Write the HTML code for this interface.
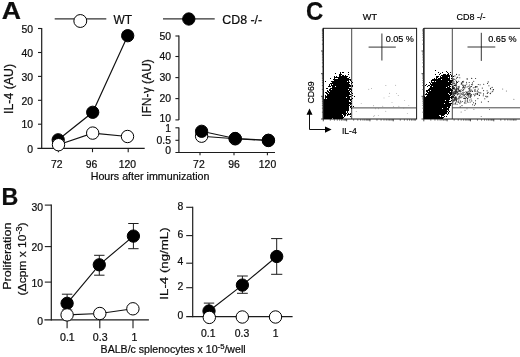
<!DOCTYPE html>
<html><head><meta charset="utf-8"><title>Figure</title>
<style>
html,body{margin:0;padding:0;background:#fff;}
svg{display:block;font-family:"Liberation Sans",Arial,sans-serif;fill:#0d0d0d;}
text{stroke:#0d0d0d;stroke-width:0.22px;}
.sm{stroke:#000;stroke-width:0.18px;fill:#000;}
</style></head><body>
<svg width="520" height="357" viewBox="0 0 520 357">
<rect x="0" y="0" width="520" height="357" fill="#fff"/>
<text x="1.7" y="18.8" font-size="24.6" text-anchor="start" textLength="19.2" lengthAdjust="spacingAndGlyphs" font-weight="bold">A</text>
<text x="1.4" y="204.7" font-size="24" text-anchor="start" textLength="16.8" lengthAdjust="spacingAndGlyphs" font-weight="bold">B</text>
<text x="305.9" y="19.7" font-size="25" text-anchor="start" textLength="17.3" lengthAdjust="spacingAndGlyphs" font-weight="bold">C</text>
<line x1="54.7" y1="18.9" x2="106.3" y2="18.9" stroke="#333" stroke-width="1.2"/>
<circle cx="80.3" cy="21.0" r="6.45" fill="#fff" stroke="#000" stroke-width="1.0"/>
<text x="113.4" y="24.2" font-size="12" text-anchor="start" textLength="18.6" lengthAdjust="spacingAndGlyphs">WT</text>
<line x1="163" y1="18.9" x2="214.7" y2="18.9" stroke="#333" stroke-width="1.2"/>
<circle cx="188.8" cy="19" r="6.15" fill="#000" stroke="#000" stroke-width="1.0"/>
<text x="222.3" y="24.3" font-size="12" text-anchor="start" textLength="39.8" lengthAdjust="spacingAndGlyphs">CD8 -/-</text>
<line x1="41.7" y1="28.0" x2="41.7" y2="148.9" stroke="#1c1c1c" stroke-width="1.2"/>
<line x1="37.4" y1="148.3" x2="144.7" y2="148.3" stroke="#1c1c1c" stroke-width="1.2"/>
<line x1="38.0" y1="28.5" x2="41.7" y2="28.5" stroke="#1c1c1c" stroke-width="1.1"/>
<text x="33.0" y="32.7" font-size="10.4" text-anchor="end">50</text>
<line x1="38.0" y1="52.5" x2="41.7" y2="52.5" stroke="#1c1c1c" stroke-width="1.1"/>
<text x="33.0" y="56.7" font-size="10.4" text-anchor="end">40</text>
<line x1="38.0" y1="76.4" x2="41.7" y2="76.4" stroke="#1c1c1c" stroke-width="1.1"/>
<text x="33.0" y="80.60000000000001" font-size="10.4" text-anchor="end">30</text>
<line x1="38.0" y1="100.3" x2="41.7" y2="100.3" stroke="#1c1c1c" stroke-width="1.1"/>
<text x="33.0" y="104.5" font-size="10.4" text-anchor="end">20</text>
<line x1="38.0" y1="124.2" x2="41.7" y2="124.2" stroke="#1c1c1c" stroke-width="1.1"/>
<text x="33.0" y="128.4" font-size="10.4" text-anchor="end">10</text>
<text x="33.0" y="152.5" font-size="10.4" text-anchor="end">0</text>
<line x1="58.4" y1="148.3" x2="58.4" y2="152.2" stroke="#1c1c1c" stroke-width="1.1"/>
<text x="56.7" y="168.0" font-size="10.4" text-anchor="middle">72</text>
<line x1="92.5" y1="148.3" x2="92.5" y2="152.2" stroke="#1c1c1c" stroke-width="1.1"/>
<text x="91.6" y="168.0" font-size="10.4" text-anchor="middle">96</text>
<line x1="128.2" y1="148.3" x2="128.2" y2="152.2" stroke="#1c1c1c" stroke-width="1.1"/>
<text x="127.4" y="168.0" font-size="10.4" text-anchor="middle">120</text>
<text transform="translate(13.1,89) rotate(-90)" font-size="12" text-anchor="middle" textLength="50" lengthAdjust="spacingAndGlyphs">IL-4 (AU)</text>
<polyline fill="none" stroke="#111" stroke-width="1.15" points="58.2,139.8 92.7,112.3 127.7,35.7"/>
<circle cx="58.2" cy="139.8" r="6.15" fill="#000" stroke="#000" stroke-width="1.0"/>
<circle cx="92.7" cy="112.3" r="6.15" fill="#000" stroke="#000" stroke-width="1.0"/>
<circle cx="127.7" cy="35.7" r="6.15" fill="#000" stroke="#000" stroke-width="1.0"/>
<polyline fill="none" stroke="#111" stroke-width="1.15" points="58.5,144.7 92.7,133.1 127.5,136.5"/>
<circle cx="58.5" cy="144.7" r="6.2" fill="#fff" stroke="#000" stroke-width="1.0"/>
<circle cx="92.7" cy="133.1" r="6.2" fill="#fff" stroke="#000" stroke-width="1.0"/>
<circle cx="127.5" cy="136.5" r="6.2" fill="#fff" stroke="#000" stroke-width="1.0"/>
<text x="90.7" y="180.3" font-size="10.7" text-anchor="start" textLength="118.8" lengthAdjust="spacingAndGlyphs">Hours after immunization</text>
<line x1="178.9" y1="35.5" x2="178.9" y2="119.9" stroke="#1c1c1c" stroke-width="1.2"/>
<line x1="178.9" y1="127.6" x2="178.9" y2="153.0" stroke="#1c1c1c" stroke-width="1.2"/>
<line x1="175.4" y1="152.5" x2="275" y2="152.5" stroke="#1c1c1c" stroke-width="1.2"/>
<line x1="175.4" y1="36.0" x2="178.9" y2="36.0" stroke="#1c1c1c" stroke-width="1.1"/>
<text x="171.0" y="39.5" font-size="10.4" text-anchor="end">50</text>
<line x1="175.4" y1="56.5" x2="178.9" y2="56.5" stroke="#1c1c1c" stroke-width="1.1"/>
<text x="171.0" y="59.5" font-size="10.4" text-anchor="end">40</text>
<line x1="175.4" y1="77.6" x2="178.9" y2="77.6" stroke="#1c1c1c" stroke-width="1.1"/>
<text x="171.0" y="80.7" font-size="10.4" text-anchor="end">30</text>
<line x1="175.4" y1="98.6" x2="178.9" y2="98.6" stroke="#1c1c1c" stroke-width="1.1"/>
<text x="171.0" y="101.9" font-size="10.4" text-anchor="end">20</text>
<line x1="175.4" y1="119.9" x2="178.9" y2="119.9" stroke="#1c1c1c" stroke-width="1.1"/>
<text x="171.0" y="121.7" font-size="10.4" text-anchor="end">10</text>
<line x1="175.4" y1="127.8" x2="178.9" y2="127.8" stroke="#1c1c1c" stroke-width="1.1"/>
<text x="171.0" y="131.7" font-size="10.4" text-anchor="end">1</text>
<line x1="175.4" y1="140.3" x2="178.9" y2="140.3" stroke="#1c1c1c" stroke-width="1.1"/>
<text x="171.0" y="143.5" font-size="10.4" text-anchor="end">0.5</text>
<text x="171.0" y="153.8" font-size="10.4" text-anchor="end">0</text>
<line x1="200.0" y1="152.5" x2="200.0" y2="155.3" stroke="#1c1c1c" stroke-width="1.1"/>
<text x="198.9" y="167.9" font-size="10.4" text-anchor="middle">72</text>
<line x1="234" y1="152.5" x2="234" y2="155.3" stroke="#1c1c1c" stroke-width="1.1"/>
<text x="234" y="167.9" font-size="10.4" text-anchor="middle">96</text>
<line x1="267.4" y1="152.5" x2="267.4" y2="155.3" stroke="#1c1c1c" stroke-width="1.1"/>
<text x="267.5" y="167.9" font-size="10.4" text-anchor="middle">120</text>
<text transform="translate(151.3,88) rotate(-90)" font-size="12" text-anchor="middle" textLength="57.8" lengthAdjust="spacingAndGlyphs">IFN-γ (AU)</text>
<polyline fill="none" stroke="#111" stroke-width="1.15" points="201.6,136.2 235.2,138.8 268.4,140.5"/>
<circle cx="201.6" cy="136.2" r="6.2" fill="#fff" stroke="#000" stroke-width="1.0"/>
<circle cx="235.2" cy="138.8" r="6.2" fill="#fff" stroke="#000" stroke-width="1.0"/>
<circle cx="268.4" cy="140.5" r="6.2" fill="#fff" stroke="#000" stroke-width="1.0"/>
<polyline fill="none" stroke="#111" stroke-width="1.15" points="201.6,131.3 235.2,138.5 268.4,140.3"/>
<circle cx="201.6" cy="131.3" r="6.15" fill="#000" stroke="#000" stroke-width="1.0"/>
<circle cx="235.2" cy="138.5" r="6.15" fill="#000" stroke="#000" stroke-width="1.0"/>
<circle cx="268.4" cy="140.3" r="6.15" fill="#000" stroke="#000" stroke-width="1.0"/>
<line x1="51.3" y1="204.6" x2="51.3" y2="320.4" stroke="#1c1c1c" stroke-width="1.2"/>
<line x1="44.4" y1="319.9" x2="148.9" y2="319.9" stroke="#1c1c1c" stroke-width="1.2"/>
<line x1="44.8" y1="205.1" x2="51.3" y2="205.1" stroke="#1c1c1c" stroke-width="1.1"/>
<text x="43.0" y="211.1" font-size="10.4" text-anchor="end">30</text>
<line x1="44.8" y1="246.6" x2="51.3" y2="246.6" stroke="#1c1c1c" stroke-width="1.1"/>
<text x="43.0" y="251.2" font-size="10.4" text-anchor="end">20</text>
<line x1="44.8" y1="282.1" x2="51.3" y2="282.1" stroke="#1c1c1c" stroke-width="1.1"/>
<text x="43.0" y="286.70000000000005" font-size="10.4" text-anchor="end">10</text>
<text x="43.0" y="324.5" font-size="10.4" text-anchor="end">0</text>
<line x1="67.1" y1="320" x2="67.1" y2="328.2" stroke="#1c1c1c" stroke-width="1.1"/>
<text x="67.4" y="340.6" font-size="10.6" text-anchor="middle">0.1</text>
<line x1="99.8" y1="320" x2="99.8" y2="328.2" stroke="#1c1c1c" stroke-width="1.1"/>
<text x="100.2" y="340.6" font-size="10.6" text-anchor="middle">0.3</text>
<line x1="133.0" y1="320" x2="133.0" y2="328.2" stroke="#1c1c1c" stroke-width="1.1"/>
<text x="134.4" y="340.6" font-size="10.6" text-anchor="middle">1</text>
<text transform="translate(11.3,256.2) rotate(-90)" font-size="11.2" text-anchor="middle" textLength="67.2" lengthAdjust="spacingAndGlyphs">Proliferation</text>
<text transform="translate(26.4,258.9) rotate(-90)" font-size="11.2" text-anchor="middle" textLength="73" lengthAdjust="spacingAndGlyphs">(Δcpm x 10<tspan font-size="8.5" dy="-4.8">-3</tspan><tspan dy="4.8">)</tspan></text>
<line x1="67.1" y1="294.2" x2="67.1" y2="310" stroke="#1c1c1c" stroke-width="1.0"/>
<line x1="61.89999999999999" y1="294.2" x2="72.3" y2="294.2" stroke="#1c1c1c" stroke-width="1.0"/>
<line x1="61.89999999999999" y1="310" x2="72.3" y2="310" stroke="#1c1c1c" stroke-width="1.0"/>
<line x1="99.3" y1="255.3" x2="99.3" y2="275.2" stroke="#1c1c1c" stroke-width="1.0"/>
<line x1="94.1" y1="255.3" x2="104.5" y2="255.3" stroke="#1c1c1c" stroke-width="1.0"/>
<line x1="94.1" y1="275.2" x2="104.5" y2="275.2" stroke="#1c1c1c" stroke-width="1.0"/>
<line x1="133.4" y1="223.5" x2="133.4" y2="248.7" stroke="#1c1c1c" stroke-width="1.0"/>
<line x1="128.20000000000002" y1="223.5" x2="138.6" y2="223.5" stroke="#1c1c1c" stroke-width="1.0"/>
<line x1="128.20000000000002" y1="248.7" x2="138.6" y2="248.7" stroke="#1c1c1c" stroke-width="1.0"/>
<polyline fill="none" stroke="#111" stroke-width="1.15" points="67.1,303.3 99.3,264.8 133.4,236.1"/>
<circle cx="67.1" cy="303.3" r="6.15" fill="#000" stroke="#000" stroke-width="1.0"/>
<circle cx="99.3" cy="264.8" r="6.15" fill="#000" stroke="#000" stroke-width="1.0"/>
<circle cx="133.4" cy="236.1" r="6.15" fill="#000" stroke="#000" stroke-width="1.0"/>
<polyline fill="none" stroke="#111" stroke-width="1.15" points="67.1,314.9 99.8,313.5 132.9,308.8"/>
<circle cx="67.1" cy="314.9" r="6.2" fill="#fff" stroke="#000" stroke-width="1.0"/>
<circle cx="99.8" cy="313.5" r="6.2" fill="#fff" stroke="#000" stroke-width="1.0"/>
<circle cx="132.9" cy="308.8" r="6.2" fill="#fff" stroke="#000" stroke-width="1.0"/>
<text x="100.6" y="353.2" font-size="10.7" textLength="145" lengthAdjust="spacingAndGlyphs">BALB/c splenocytes x 10<tspan font-size="7.8" dy="-4.2">-5</tspan><tspan dy="4.2">/well</tspan></text>
<line x1="192.7" y1="206.8" x2="192.7" y2="317.3" stroke="#1c1c1c" stroke-width="1.2"/>
<line x1="186.2" y1="316.7" x2="292.6" y2="316.7" stroke="#1c1c1c" stroke-width="1.2"/>
<line x1="186.2" y1="207.3" x2="192.7" y2="207.3" stroke="#1c1c1c" stroke-width="1.1"/>
<text x="183.3" y="209.5" font-size="10.4" text-anchor="end">8</text>
<line x1="186.2" y1="235.6" x2="192.7" y2="235.6" stroke="#1c1c1c" stroke-width="1.1"/>
<text x="183.3" y="237.79999999999998" font-size="10.4" text-anchor="end">6</text>
<line x1="186.2" y1="263.2" x2="192.7" y2="263.2" stroke="#1c1c1c" stroke-width="1.1"/>
<text x="183.3" y="265.4" font-size="10.4" text-anchor="end">4</text>
<line x1="186.2" y1="287.7" x2="192.7" y2="287.7" stroke="#1c1c1c" stroke-width="1.1"/>
<text x="183.3" y="289.9" font-size="10.4" text-anchor="end">2</text>
<text x="183.3" y="318.9" font-size="10.4" text-anchor="end">0</text>
<text x="208.3" y="336.5" font-size="10.4" text-anchor="middle">0.1</text>
<text x="242.0" y="336.5" font-size="10.4" text-anchor="middle">0.3</text>
<text x="275.7" y="336.5" font-size="10.4" text-anchor="middle">1</text>
<text transform="translate(168.4,263.5) rotate(-90)" font-size="11.4" text-anchor="middle" textLength="72.3" lengthAdjust="spacingAndGlyphs">IL-4 (ng/mL)</text>
<line x1="209" y1="303.1" x2="209" y2="316" stroke="#1c1c1c" stroke-width="1.0"/>
<line x1="203.8" y1="303.1" x2="214.2" y2="303.1" stroke="#1c1c1c" stroke-width="1.0"/>
<line x1="203.8" y1="316" x2="214.2" y2="316" stroke="#1c1c1c" stroke-width="1.0"/>
<line x1="242.4" y1="276" x2="242.4" y2="293.3" stroke="#1c1c1c" stroke-width="1.0"/>
<line x1="237.0" y1="276" x2="247.8" y2="276" stroke="#1c1c1c" stroke-width="1.0"/>
<line x1="237.0" y1="293.3" x2="247.8" y2="293.3" stroke="#1c1c1c" stroke-width="1.0"/>
<line x1="276.7" y1="238.6" x2="276.7" y2="274.3" stroke="#1c1c1c" stroke-width="1.0"/>
<line x1="271.09999999999997" y1="238.6" x2="282.3" y2="238.6" stroke="#1c1c1c" stroke-width="1.0"/>
<line x1="271.09999999999997" y1="274.3" x2="282.3" y2="274.3" stroke="#1c1c1c" stroke-width="1.0"/>
<polyline fill="none" stroke="#111" stroke-width="1.15" points="209,311.0 242.4,285.1 276.7,256.5"/>
<circle cx="209" cy="311.0" r="6.15" fill="#000" stroke="#000" stroke-width="1.0"/>
<circle cx="242.4" cy="285.1" r="6.15" fill="#000" stroke="#000" stroke-width="1.0"/>
<circle cx="276.7" cy="256.5" r="6.15" fill="#000" stroke="#000" stroke-width="1.0"/>
<circle cx="209.3" cy="317.4" r="6.2" fill="#fff" stroke="#000" stroke-width="1.0"/>
<circle cx="242.3" cy="317.0" r="6.2" fill="#fff" stroke="#000" stroke-width="1.0"/>
<circle cx="275.5" cy="317.0" r="6.2" fill="#fff" stroke="#000" stroke-width="1.0"/>
<rect x="323.3" y="28.3" width="93.30000000000001" height="90.7" fill="none" stroke="#1a1a1a" stroke-width="1.0"/>
<line x1="323.3" y1="28.3" x2="323.3" y2="119.0" stroke="#1a1a1a" stroke-width="1.3"/>
<line x1="351.7" y1="28.3" x2="351.7" y2="119.0" stroke="#333" stroke-width="0.9"/>
<line x1="351.7" y1="107.9" x2="416.6" y2="107.9" stroke="#333" stroke-width="0.9"/>
<line x1="368.6" y1="47.1" x2="395.8" y2="47.1" stroke="#111" stroke-width="0.85"/>
<line x1="381.9" y1="33.5" x2="381.9" y2="60.5" stroke="#111" stroke-width="0.85"/>
<text x="385.7" y="42.4" font-size="9" text-anchor="start" textLength="28.2" lengthAdjust="spacingAndGlyphs" class="sm">0.05 %</text>
<text x="362.8" y="20.3" font-size="9" text-anchor="start" textLength="14.2" lengthAdjust="spacingAndGlyphs" class="sm">WT</text>
<path d="M340 72.5h1M342 72.5h2M348 72.5h1M335 73.5h1M340 73.5h1M339 74.5h3M348 74.5h1M339 75.5h2M342 75.5h2M345 75.5h1M334 76.5h1M336 76.5h1M339 76.5h9M334 77.5h13M349 77.5h1M330 78.5h1M334 78.5h1M338 78.5h11M333 79.5h18M334 80.5h15M350 80.5h1M325 81.5h1M331 81.5h16M348 81.5h1M351 81.5h1M332 82.5h18M352 82.5h1M330 83.5h19M351 83.5h1M329 84.5h1M331 84.5h1M333 84.5h17M329 85.5h1M331 85.5h20M352 85.5h1M328 86.5h3M332 86.5h3M336 86.5h15M352 86.5h1M332 87.5h17M326 88.5h2M330 88.5h21M329 89.5h2M332 89.5h16M349 89.5h3M327 90.5h1M329 90.5h21M351 90.5h1M327 91.5h2M330 91.5h19M350 91.5h1M325 92.5h2M328 92.5h22M351 92.5h1M326 93.5h2M329 93.5h21M352 93.5h1M327 94.5h24M325 95.5h1M327 95.5h22M352 95.5h1M325 96.5h26M354 96.5h1M325 97.5h21M347 97.5h3M325 98.5h1M327 98.5h23M352 98.5h1M324 99.5h28M324 100.5h25M350 100.5h1M324 101.5h25M351 101.5h1M324 102.5h27M324 103.5h28M324 104.5h25M350 104.5h1M324 105.5h26M324 106.5h25M350 106.5h2M353 106.5h1M324 107.5h25M350 107.5h1M324 108.5h25M351 108.5h1M324 109.5h25M324 110.5h25M324 111.5h22M347 111.5h1M324 112.5h22M347 112.5h1M324 113.5h23M348 113.5h1M350 113.5h1M324 114.5h18M343 114.5h3M347 114.5h4M324 115.5h19M344 115.5h2M347 115.5h1M324 116.5h19M344 116.5h1M350 116.5h1M324 117.5h20M324 118.5h8M333 118.5h10" stroke="#000" stroke-width="1" fill="none" shape-rendering="crispEdges"/>
<path d="M521,28.3 H423.8 V119.0 H521" fill="none" stroke="#1a1a1a" stroke-width="1.0"/>
<line x1="423.8" y1="28.3" x2="423.8" y2="119.0" stroke="#1a1a1a" stroke-width="1.3"/>
<line x1="452.3" y1="28.3" x2="452.3" y2="119.0" stroke="#333" stroke-width="0.9"/>
<line x1="452.3" y1="107.8" x2="521" y2="107.8" stroke="#333" stroke-width="0.9"/>
<line x1="467.5" y1="47" x2="495.3" y2="47" stroke="#111" stroke-width="0.85"/>
<line x1="481.3" y1="32.8" x2="481.3" y2="60.9" stroke="#111" stroke-width="0.85"/>
<text x="488.3" y="42.4" font-size="9" text-anchor="start" textLength="28.2" lengthAdjust="spacingAndGlyphs" class="sm">0.65 %</text>
<text x="456.5" y="20.4" font-size="9" text-anchor="start" textLength="29" lengthAdjust="spacingAndGlyphs" class="sm">CD8 -/-</text>
<path d="M435 70.5h1M446 71.5h1M438 72.5h1M442 72.5h1M447 72.5h1M450 72.5h1M440 73.5h1M448 73.5h1M435 74.5h1M439 74.5h1M443 74.5h3M447 74.5h2M450 74.5h1M441 75.5h9M451 75.5h1M436 76.5h3M440 76.5h1M442 76.5h8M451 76.5h1M453 76.5h1M436 77.5h2M440 77.5h8M449 77.5h1M434 78.5h1M436 78.5h1M438 78.5h12M451 78.5h1M432 79.5h9M442 79.5h8M431 80.5h22M431 81.5h1M434 81.5h1M436 81.5h12M449 81.5h3M429 82.5h1M431 82.5h21M430 83.5h1M432 83.5h19M426 84.5h1M430 84.5h22M425 85.5h1M428 85.5h2M431 85.5h19M454 85.5h1M427 86.5h1M430 86.5h2M433 86.5h15M449 86.5h2M452 86.5h1M430 87.5h16M447 87.5h3M452 87.5h1M429 88.5h22M452 88.5h2M428 89.5h24M426 90.5h4M431 90.5h22M426 91.5h2M429 91.5h21M451 91.5h1M427 92.5h25M426 93.5h1M428 93.5h20M449 93.5h3M425 94.5h24M450 94.5h2M427 95.5h24M424 96.5h1M426 96.5h24M451 96.5h3M424 97.5h29M424 98.5h26M451 98.5h1M424 99.5h26M424 100.5h21M446 100.5h3M451 100.5h1M424 101.5h27M424 102.5h25M424 103.5h20M445 103.5h7M424 104.5h27M424 105.5h27M424 106.5h26M424 107.5h23M448 107.5h2M424 108.5h18M443 108.5h6M424 109.5h25M424 110.5h23M448 110.5h1M424 111.5h24M449 111.5h1M424 112.5h23M448 112.5h1M424 113.5h23M448 113.5h1M424 114.5h21M447 114.5h1M424 115.5h15M441 115.5h3M424 116.5h16M441 116.5h1M444 116.5h1M446 116.5h1M424 117.5h20M424 118.5h19" stroke="#000" stroke-width="1" fill="none" shape-rendering="crispEdges"/>
<g fill="#777"><circle cx="378.3" cy="115.6" r="0.45"/><circle cx="373.6" cy="105.8" r="0.45"/><circle cx="389.0" cy="96.4" r="0.45"/><circle cx="382.8" cy="106.3" r="0.45"/><circle cx="404.7" cy="100.4" r="0.45"/><circle cx="373.7" cy="116.2" r="0.45"/><circle cx="356.2" cy="111.5" r="0.45"/><circle cx="392.0" cy="102.4" r="0.45"/><circle cx="378.5" cy="108.8" r="0.45"/><circle cx="403.8" cy="108.1" r="0.45"/><circle cx="395.7" cy="85.2" r="0.45"/><circle cx="371.5" cy="88.5" r="0.45"/><circle cx="407.3" cy="113.4" r="0.45"/><circle cx="361.2" cy="103.4" r="0.45"/><circle cx="385.9" cy="85.5" r="0.45"/><circle cx="375.4" cy="108.7" r="0.45"/><circle cx="389.6" cy="93.3" r="0.45"/><circle cx="396.5" cy="93.6" r="0.45"/><circle cx="384.0" cy="97.9" r="0.45"/><circle cx="408.8" cy="105.4" r="0.45"/><circle cx="398.9" cy="106.3" r="0.45"/><circle cx="374.7" cy="115.8" r="0.45"/><circle cx="393.5" cy="106.8" r="0.45"/><circle cx="368.8" cy="89.3" r="0.45"/><circle cx="385.8" cy="111.3" r="0.45"/><circle cx="398.2" cy="95.5" r="0.45"/></g>
<g fill="#222"><circle cx="454.9" cy="75.9" r="0.55"/><circle cx="455.3" cy="90.0" r="0.55"/><circle cx="471.6" cy="94.6" r="0.55"/><circle cx="453.6" cy="97.5" r="0.55"/><circle cx="457.7" cy="77.3" r="0.55"/><circle cx="455.7" cy="84.9" r="0.55"/><circle cx="458.2" cy="88.4" r="0.55"/><circle cx="457.0" cy="93.0" r="0.55"/><circle cx="459.8" cy="77.8" r="0.55"/><circle cx="457.1" cy="104.3" r="0.55"/><circle cx="456.0" cy="98.6" r="0.55"/><circle cx="478.2" cy="89.1" r="0.55"/><circle cx="467.0" cy="93.0" r="0.55"/><circle cx="455.1" cy="85.0" r="0.55"/><circle cx="472.6" cy="84.7" r="0.55"/><circle cx="468.3" cy="93.5" r="0.55"/><circle cx="472.4" cy="91.2" r="0.55"/><circle cx="487.7" cy="96.7" r="0.55"/><circle cx="463.4" cy="89.5" r="0.55"/><circle cx="457.0" cy="101.9" r="0.55"/><circle cx="473.5" cy="102.7" r="0.55"/><circle cx="464.5" cy="95.1" r="0.55"/><circle cx="458.9" cy="97.0" r="0.55"/><circle cx="456.7" cy="89.5" r="0.55"/><circle cx="453.8" cy="79.1" r="0.55"/><circle cx="468.7" cy="88.8" r="0.55"/><circle cx="460.3" cy="93.0" r="0.55"/><circle cx="457.9" cy="88.3" r="0.55"/><circle cx="467.3" cy="100.9" r="0.55"/><circle cx="469.3" cy="90.2" r="0.55"/><circle cx="473.7" cy="81.2" r="0.55"/><circle cx="471.8" cy="100.9" r="0.55"/><circle cx="458.7" cy="81.3" r="0.55"/><circle cx="458.8" cy="100.0" r="0.55"/><circle cx="455.7" cy="98.1" r="0.55"/><circle cx="463.1" cy="85.7" r="0.55"/><circle cx="468.3" cy="94.8" r="0.55"/><circle cx="458.6" cy="89.4" r="0.55"/><circle cx="453.8" cy="83.7" r="0.55"/><circle cx="479.5" cy="95.5" r="0.55"/><circle cx="468.2" cy="86.3" r="0.55"/><circle cx="464.7" cy="88.7" r="0.55"/><circle cx="457.3" cy="99.0" r="0.55"/><circle cx="478.3" cy="84.5" r="0.55"/><circle cx="455.1" cy="85.5" r="0.55"/><circle cx="462.5" cy="81.6" r="0.55"/><circle cx="484.8" cy="98.7" r="0.55"/><circle cx="476.9" cy="86.9" r="0.55"/><circle cx="467.5" cy="94.4" r="0.55"/><circle cx="469.8" cy="89.8" r="0.55"/><circle cx="469.8" cy="88.2" r="0.55"/><circle cx="453.8" cy="87.5" r="0.55"/><circle cx="465.7" cy="94.3" r="0.55"/><circle cx="456.2" cy="86.2" r="0.55"/><circle cx="456.3" cy="101.1" r="0.55"/><circle cx="475.5" cy="86.6" r="0.55"/><circle cx="453.8" cy="100.9" r="0.55"/><circle cx="478.3" cy="92.1" r="0.55"/><circle cx="466.7" cy="92.4" r="0.55"/><circle cx="454.9" cy="91.2" r="0.55"/><circle cx="461.1" cy="94.2" r="0.55"/><circle cx="464.1" cy="92.5" r="0.55"/><circle cx="477.4" cy="90.8" r="0.55"/><circle cx="454.4" cy="93.3" r="0.55"/><circle cx="458.6" cy="101.9" r="0.55"/><circle cx="458.4" cy="87.0" r="0.55"/><circle cx="474.9" cy="90.5" r="0.55"/><circle cx="456.1" cy="99.0" r="0.55"/><circle cx="463.6" cy="81.3" r="0.55"/><circle cx="453.2" cy="91.9" r="0.55"/><circle cx="462.6" cy="90.2" r="0.55"/><circle cx="460.5" cy="101.1" r="0.55"/><circle cx="470.8" cy="95.4" r="0.55"/><circle cx="465.1" cy="85.4" r="0.55"/><circle cx="465.2" cy="96.6" r="0.55"/><circle cx="475.6" cy="78.5" r="0.55"/><circle cx="461.9" cy="96.9" r="0.55"/><circle cx="468.9" cy="97.2" r="0.55"/><circle cx="470.1" cy="86.6" r="0.55"/><circle cx="455.7" cy="93.6" r="0.55"/><circle cx="460.0" cy="90.8" r="0.55"/><circle cx="471.4" cy="96.0" r="0.55"/><circle cx="463.0" cy="87.6" r="0.55"/><circle cx="469.8" cy="93.6" r="0.55"/><circle cx="455.9" cy="90.7" r="0.55"/><circle cx="469.7" cy="100.0" r="0.55"/><circle cx="488.2" cy="81.9" r="0.55"/><circle cx="470.7" cy="91.6" r="0.55"/><circle cx="456.0" cy="88.9" r="0.55"/><circle cx="453.0" cy="99.8" r="0.55"/><circle cx="466.7" cy="84.0" r="0.55"/><circle cx="457.1" cy="88.9" r="0.55"/><circle cx="466.8" cy="95.0" r="0.55"/><circle cx="455.5" cy="93.8" r="0.55"/><circle cx="458.9" cy="102.3" r="0.55"/><circle cx="461.3" cy="84.2" r="0.55"/><circle cx="454.3" cy="95.1" r="0.55"/><circle cx="473.8" cy="94.2" r="0.55"/><circle cx="475.0" cy="91.4" r="0.55"/><circle cx="461.9" cy="93.4" r="0.55"/><circle cx="454.4" cy="87.9" r="0.55"/><circle cx="464.4" cy="87.2" r="0.55"/><circle cx="456.9" cy="91.4" r="0.55"/><circle cx="453.1" cy="102.0" r="0.55"/><circle cx="493.5" cy="89.5" r="0.55"/><circle cx="459.6" cy="96.3" r="0.55"/><circle cx="476.2" cy="93.9" r="0.55"/><circle cx="453.0" cy="88.0" r="0.55"/><circle cx="456.2" cy="85.3" r="0.55"/><circle cx="452.9" cy="87.6" r="0.55"/><circle cx="477.6" cy="93.6" r="0.55"/><circle cx="453.4" cy="83.0" r="0.55"/><circle cx="483.6" cy="90.6" r="0.55"/><circle cx="458.3" cy="91.1" r="0.55"/><circle cx="466.5" cy="97.6" r="0.55"/><circle cx="467.1" cy="87.0" r="0.55"/><circle cx="456.0" cy="92.3" r="0.55"/><circle cx="454.3" cy="88.2" r="0.55"/><circle cx="455.9" cy="89.5" r="0.55"/><circle cx="461.3" cy="83.1" r="0.55"/><circle cx="470.0" cy="87.5" r="0.55"/><circle cx="460.9" cy="102.2" r="0.55"/><circle cx="453.6" cy="96.7" r="0.55"/><circle cx="461.7" cy="83.3" r="0.55"/><circle cx="470.3" cy="97.5" r="0.55"/><circle cx="456.6" cy="84.8" r="0.55"/><circle cx="461.7" cy="83.1" r="0.55"/><circle cx="454.9" cy="100.4" r="0.55"/><circle cx="453.7" cy="85.8" r="0.55"/><circle cx="456.6" cy="97.1" r="0.55"/><circle cx="459.8" cy="91.3" r="0.55"/><circle cx="474.5" cy="95.8" r="0.55"/><circle cx="471.7" cy="84.5" r="0.55"/><circle cx="475.5" cy="100.8" r="0.55"/><circle cx="453.3" cy="97.1" r="0.55"/><circle cx="490.2" cy="93.6" r="0.55"/><circle cx="456.3" cy="83.4" r="0.55"/><circle cx="467.1" cy="78.7" r="0.55"/><circle cx="488.0" cy="92.4" r="0.55"/><circle cx="453.1" cy="96.1" r="0.55"/><circle cx="472.6" cy="104.8" r="0.55"/><circle cx="470.1" cy="102.1" r="0.55"/><circle cx="455.7" cy="93.2" r="0.55"/><circle cx="462.8" cy="88.0" r="0.55"/><circle cx="454.4" cy="95.3" r="0.55"/><circle cx="487.5" cy="83.5" r="0.55"/><circle cx="452.8" cy="97.5" r="0.55"/><circle cx="476.9" cy="86.6" r="0.55"/><circle cx="462.6" cy="85.0" r="0.55"/><circle cx="475.3" cy="87.0" r="0.55"/><circle cx="453.9" cy="100.8" r="0.55"/><circle cx="457.6" cy="94.8" r="0.55"/><circle cx="459.9" cy="103.6" r="0.55"/><circle cx="453.1" cy="92.2" r="0.55"/><circle cx="477.6" cy="94.5" r="0.55"/><circle cx="454.6" cy="83.6" r="0.55"/><circle cx="467.5" cy="93.8" r="0.55"/><circle cx="454.4" cy="99.5" r="0.55"/><circle cx="454.2" cy="89.5" r="0.55"/><circle cx="471.1" cy="99.0" r="0.55"/><circle cx="454.3" cy="79.3" r="0.55"/><circle cx="459.2" cy="87.7" r="0.55"/><circle cx="455.0" cy="103.9" r="0.55"/><circle cx="465.9" cy="103.1" r="0.55"/><circle cx="452.9" cy="89.7" r="0.55"/><circle cx="453.9" cy="100.6" r="0.55"/><circle cx="465.6" cy="98.6" r="0.55"/><circle cx="463.1" cy="85.1" r="0.55"/><circle cx="466.0" cy="93.8" r="0.55"/><circle cx="467.4" cy="101.0" r="0.55"/><circle cx="475.1" cy="87.6" r="0.55"/><circle cx="487.0" cy="96.3" r="0.55"/><circle cx="453.2" cy="80.9" r="0.55"/><circle cx="468.8" cy="95.9" r="0.55"/><circle cx="482.3" cy="88.1" r="0.55"/><circle cx="455.6" cy="99.3" r="0.55"/><circle cx="470.0" cy="89.7" r="0.55"/><circle cx="456.9" cy="89.5" r="0.55"/><circle cx="458.3" cy="98.2" r="0.55"/><circle cx="467.7" cy="98.3" r="0.55"/><circle cx="490.5" cy="93.3" r="0.55"/><circle cx="472.4" cy="91.4" r="0.55"/><circle cx="460.2" cy="97.1" r="0.55"/><circle cx="453.1" cy="93.5" r="0.55"/><circle cx="488.3" cy="101.6" r="0.55"/><circle cx="458.4" cy="93.3" r="0.55"/><circle cx="483.7" cy="84.2" r="0.55"/><circle cx="475.0" cy="89.6" r="0.55"/><circle cx="477.2" cy="91.7" r="0.55"/><circle cx="458.1" cy="86.7" r="0.55"/><circle cx="463.6" cy="87.2" r="0.55"/><circle cx="467.5" cy="98.7" r="0.55"/><circle cx="463.6" cy="98.3" r="0.55"/><circle cx="487.1" cy="90.8" r="0.55"/><circle cx="469.2" cy="94.7" r="0.55"/><circle cx="456.1" cy="91.0" r="0.55"/><circle cx="457.5" cy="92.7" r="0.55"/><circle cx="457.0" cy="91.0" r="0.55"/><circle cx="470.4" cy="95.9" r="0.55"/><circle cx="460.9" cy="91.5" r="0.55"/><circle cx="469.1" cy="88.2" r="0.55"/><circle cx="472.4" cy="82.9" r="0.55"/><circle cx="456.8" cy="91.6" r="0.55"/><circle cx="469.2" cy="93.5" r="0.55"/><circle cx="456.1" cy="90.5" r="0.55"/><circle cx="465.3" cy="86.9" r="0.55"/><circle cx="469.4" cy="85.0" r="0.55"/><circle cx="457.9" cy="94.2" r="0.55"/><circle cx="453.0" cy="92.7" r="0.55"/><circle cx="459.1" cy="93.9" r="0.55"/><circle cx="462.3" cy="94.5" r="0.55"/><circle cx="473.3" cy="87.8" r="0.55"/><circle cx="455.5" cy="96.9" r="0.55"/><circle cx="460.2" cy="95.3" r="0.55"/><circle cx="469.2" cy="82.5" r="0.55"/><circle cx="454.2" cy="95.8" r="0.55"/><circle cx="490.5" cy="88.4" r="0.55"/><circle cx="453.2" cy="104.0" r="0.55"/><circle cx="477.5" cy="93.9" r="0.55"/><circle cx="475.5" cy="103.2" r="0.55"/><circle cx="468.4" cy="91.8" r="0.55"/><circle cx="455.7" cy="92.7" r="0.55"/><circle cx="485.7" cy="96.2" r="0.55"/><circle cx="465.2" cy="100.1" r="0.55"/><circle cx="468.0" cy="93.5" r="0.55"/><circle cx="454.2" cy="95.5" r="0.55"/><circle cx="464.6" cy="98.4" r="0.55"/><circle cx="456.3" cy="92.8" r="0.55"/><circle cx="479.6" cy="92.7" r="0.55"/><circle cx="454.8" cy="98.7" r="0.55"/><circle cx="470.8" cy="90.7" r="0.55"/><circle cx="454.9" cy="93.0" r="0.55"/><circle cx="459.2" cy="86.3" r="0.55"/><circle cx="463.2" cy="95.8" r="0.55"/><circle cx="475.1" cy="95.0" r="0.55"/><circle cx="457.5" cy="82.4" r="0.55"/><circle cx="456.4" cy="100.4" r="0.55"/><circle cx="455.8" cy="93.1" r="0.55"/><circle cx="459.2" cy="98.8" r="0.55"/><circle cx="467.2" cy="79.1" r="0.55"/><circle cx="453.5" cy="94.3" r="0.55"/><circle cx="468.1" cy="94.4" r="0.55"/><circle cx="453.2" cy="86.6" r="0.55"/><circle cx="460.9" cy="97.7" r="0.55"/><circle cx="470.2" cy="96.6" r="0.55"/><circle cx="454.2" cy="98.1" r="0.55"/><circle cx="455.5" cy="97.5" r="0.55"/><circle cx="456.5" cy="88.1" r="0.55"/><circle cx="453.8" cy="93.0" r="0.55"/><circle cx="459.1" cy="74.9" r="0.55"/><circle cx="464.1" cy="94.9" r="0.55"/><circle cx="453.8" cy="93.8" r="0.55"/><circle cx="464.4" cy="102.9" r="0.55"/><circle cx="481.4" cy="102.1" r="0.55"/><circle cx="454.4" cy="88.0" r="0.55"/><circle cx="493.1" cy="89.9" r="0.55"/><circle cx="455.4" cy="90.7" r="0.55"/><circle cx="480.8" cy="92.9" r="0.55"/><circle cx="457.1" cy="94.7" r="0.55"/><circle cx="488.9" cy="85.8" r="0.55"/><circle cx="453.9" cy="94.6" r="0.55"/><circle cx="461.2" cy="89.8" r="0.55"/><circle cx="468.0" cy="95.9" r="0.55"/><circle cx="462.0" cy="105.6" r="0.55"/><circle cx="455.6" cy="102.7" r="0.55"/><circle cx="462.9" cy="92.5" r="0.55"/><circle cx="453.1" cy="78.8" r="0.55"/><circle cx="463.6" cy="93.9" r="0.55"/><circle cx="456.5" cy="81.4" r="0.55"/><circle cx="467.5" cy="92.0" r="0.55"/><circle cx="455.0" cy="97.7" r="0.55"/><circle cx="471.7" cy="78.4" r="0.55"/><circle cx="480.1" cy="84.8" r="0.55"/><circle cx="455.6" cy="103.8" r="0.55"/><circle cx="456.4" cy="78.3" r="0.55"/><circle cx="454.0" cy="81.9" r="0.55"/><circle cx="456.2" cy="99.6" r="0.55"/><circle cx="454.9" cy="93.4" r="0.55"/><circle cx="455.8" cy="91.5" r="0.55"/><circle cx="492.1" cy="87.4" r="0.55"/><circle cx="460.0" cy="91.2" r="0.55"/><circle cx="456.5" cy="82.7" r="0.55"/><circle cx="462.3" cy="101.5" r="0.55"/><circle cx="456.2" cy="91.1" r="0.55"/><circle cx="477.9" cy="98.6" r="0.55"/><circle cx="456.4" cy="98.1" r="0.55"/><circle cx="460.1" cy="90.2" r="0.55"/><circle cx="458.7" cy="90.9" r="0.55"/><circle cx="459.4" cy="90.4" r="0.55"/><circle cx="455.3" cy="91.7" r="0.55"/><circle cx="465.9" cy="91.8" r="0.55"/><circle cx="457.0" cy="82.4" r="0.55"/><circle cx="470.2" cy="94.3" r="0.55"/><circle cx="454.9" cy="91.8" r="0.55"/><circle cx="455.1" cy="97.7" r="0.55"/><circle cx="465.0" cy="98.1" r="0.55"/><circle cx="483.3" cy="95.8" r="0.55"/><circle cx="455.4" cy="93.6" r="0.55"/><circle cx="465.1" cy="85.3" r="0.55"/><circle cx="483.5" cy="93.9" r="0.55"/><circle cx="468.0" cy="102.2" r="0.55"/><circle cx="457.2" cy="77.2" r="0.55"/><circle cx="492.7" cy="91.6" r="0.55"/><circle cx="487.3" cy="93.4" r="0.55"/><circle cx="454.3" cy="98.0" r="0.55"/><circle cx="457.6" cy="92.3" r="0.55"/><circle cx="463.4" cy="86.6" r="0.55"/><circle cx="479.2" cy="95.0" r="0.55"/><circle cx="462.9" cy="82.4" r="0.55"/><circle cx="454.5" cy="92.0" r="0.55"/><circle cx="465.2" cy="101.7" r="0.55"/><circle cx="475.4" cy="103.9" r="0.55"/><circle cx="455.8" cy="80.0" r="0.55"/><circle cx="453.9" cy="99.7" r="0.55"/><circle cx="455.6" cy="85.6" r="0.55"/><circle cx="469.3" cy="91.9" r="0.55"/><circle cx="459.2" cy="97.1" r="0.55"/><circle cx="463.2" cy="90.7" r="0.55"/><circle cx="471.7" cy="90.0" r="0.55"/><circle cx="466.5" cy="82.3" r="0.55"/><circle cx="475.3" cy="93.7" r="0.55"/><circle cx="452.9" cy="79.8" r="0.55"/><circle cx="470.1" cy="93.5" r="0.55"/><circle cx="467.4" cy="98.9" r="0.55"/><circle cx="474.4" cy="105.3" r="0.55"/><circle cx="456.5" cy="74.4" r="0.55"/><circle cx="456.0" cy="99.7" r="0.55"/><circle cx="460.2" cy="106.7" r="0.55"/><circle cx="456.5" cy="87.8" r="0.55"/><circle cx="471.4" cy="86.4" r="0.55"/></g>
<g fill="#666"><circle cx="489.5" cy="109.6" r="0.5"/><circle cx="465.0" cy="110.3" r="0.5"/><circle cx="467.0" cy="108.8" r="0.5"/><circle cx="461.1" cy="112.0" r="0.5"/><circle cx="473.9" cy="109.2" r="0.5"/><circle cx="481.2" cy="116.5" r="0.5"/><circle cx="502.7" cy="88.9" r="0.5"/><circle cx="506.4" cy="90.9" r="0.5"/><circle cx="491.1" cy="92.0" r="0.5"/><circle cx="486.5" cy="96.9" r="0.5"/><circle cx="490.7" cy="89.2" r="0.5"/><circle cx="513.9" cy="99.2" r="0.5"/></g>
<line x1="321.0" y1="119.0" x2="323.3" y2="119.0" stroke="#222" stroke-width="0.8"/>
<line x1="321.9" y1="112.17414484831923" x2="323.3" y2="112.17414484831923" stroke="#444" stroke-width="0.8"/>
<line x1="321.9" y1="108.18127554923166" x2="323.3" y2="108.18127554923166" stroke="#444" stroke-width="0.8"/>
<line x1="321.9" y1="105.34828969663846" x2="323.3" y2="105.34828969663846" stroke="#444" stroke-width="0.8"/>
<line x1="321.9" y1="103.15085515168077" x2="323.3" y2="103.15085515168077" stroke="#444" stroke-width="0.8"/>
<line x1="321.9" y1="101.35542039755089" x2="323.3" y2="101.35542039755089" stroke="#444" stroke-width="0.8"/>
<line x1="321.9" y1="99.83740194267673" x2="323.3" y2="99.83740194267673" stroke="#444" stroke-width="0.8"/>
<line x1="321.9" y1="98.52243454495768" x2="323.3" y2="98.52243454495768" stroke="#444" stroke-width="0.8"/>
<line x1="321.9" y1="97.36255109846331" x2="323.3" y2="97.36255109846331" stroke="#444" stroke-width="0.8"/>
<line x1="321.0" y1="96.325" x2="323.3" y2="96.325" stroke="#222" stroke-width="0.8"/>
<line x1="321.9" y1="89.49914484831922" x2="323.3" y2="89.49914484831922" stroke="#444" stroke-width="0.8"/>
<line x1="321.9" y1="85.50627554923165" x2="323.3" y2="85.50627554923165" stroke="#444" stroke-width="0.8"/>
<line x1="321.9" y1="82.67328969663845" x2="323.3" y2="82.67328969663845" stroke="#444" stroke-width="0.8"/>
<line x1="321.9" y1="80.47585515168078" x2="323.3" y2="80.47585515168078" stroke="#444" stroke-width="0.8"/>
<line x1="321.9" y1="78.68042039755088" x2="323.3" y2="78.68042039755088" stroke="#444" stroke-width="0.8"/>
<line x1="321.9" y1="77.16240194267672" x2="323.3" y2="77.16240194267672" stroke="#444" stroke-width="0.8"/>
<line x1="321.9" y1="75.84743454495768" x2="323.3" y2="75.84743454495768" stroke="#444" stroke-width="0.8"/>
<line x1="321.9" y1="74.6875510984633" x2="323.3" y2="74.6875510984633" stroke="#444" stroke-width="0.8"/>
<line x1="321.0" y1="73.65" x2="323.3" y2="73.65" stroke="#222" stroke-width="0.8"/>
<line x1="321.9" y1="66.82414484831922" x2="323.3" y2="66.82414484831922" stroke="#444" stroke-width="0.8"/>
<line x1="321.9" y1="62.83127554923165" x2="323.3" y2="62.83127554923165" stroke="#444" stroke-width="0.8"/>
<line x1="321.9" y1="59.99828969663845" x2="323.3" y2="59.99828969663845" stroke="#444" stroke-width="0.8"/>
<line x1="321.9" y1="57.80085515168077" x2="323.3" y2="57.80085515168077" stroke="#444" stroke-width="0.8"/>
<line x1="321.9" y1="56.00542039755087" x2="323.3" y2="56.00542039755087" stroke="#444" stroke-width="0.8"/>
<line x1="321.9" y1="54.487401942676726" x2="323.3" y2="54.487401942676726" stroke="#444" stroke-width="0.8"/>
<line x1="321.9" y1="53.17243454495767" x2="323.3" y2="53.17243454495767" stroke="#444" stroke-width="0.8"/>
<line x1="321.9" y1="52.012551098463305" x2="323.3" y2="52.012551098463305" stroke="#444" stroke-width="0.8"/>
<line x1="321.0" y1="50.974999999999994" x2="323.3" y2="50.974999999999994" stroke="#222" stroke-width="0.8"/>
<line x1="321.9" y1="44.149144848319224" x2="323.3" y2="44.149144848319224" stroke="#444" stroke-width="0.8"/>
<line x1="321.9" y1="40.15627554923165" x2="323.3" y2="40.15627554923165" stroke="#444" stroke-width="0.8"/>
<line x1="321.9" y1="37.323289696638454" x2="323.3" y2="37.323289696638454" stroke="#444" stroke-width="0.8"/>
<line x1="321.9" y1="35.12585515168077" x2="323.3" y2="35.12585515168077" stroke="#444" stroke-width="0.8"/>
<line x1="321.9" y1="33.33042039755087" x2="323.3" y2="33.33042039755087" stroke="#444" stroke-width="0.8"/>
<line x1="321.9" y1="31.812401942676715" x2="323.3" y2="31.812401942676715" stroke="#444" stroke-width="0.8"/>
<line x1="321.9" y1="30.49743454495767" x2="323.3" y2="30.49743454495767" stroke="#444" stroke-width="0.8"/>
<line x1="321.9" y1="29.337551098463308" x2="323.3" y2="29.337551098463308" stroke="#444" stroke-width="0.8"/>
<line x1="421.5" y1="119.0" x2="423.8" y2="119.0" stroke="#222" stroke-width="0.8"/>
<line x1="422.4" y1="112.17414484831923" x2="423.8" y2="112.17414484831923" stroke="#444" stroke-width="0.8"/>
<line x1="422.4" y1="108.18127554923166" x2="423.8" y2="108.18127554923166" stroke="#444" stroke-width="0.8"/>
<line x1="422.4" y1="105.34828969663846" x2="423.8" y2="105.34828969663846" stroke="#444" stroke-width="0.8"/>
<line x1="422.4" y1="103.15085515168077" x2="423.8" y2="103.15085515168077" stroke="#444" stroke-width="0.8"/>
<line x1="422.4" y1="101.35542039755089" x2="423.8" y2="101.35542039755089" stroke="#444" stroke-width="0.8"/>
<line x1="422.4" y1="99.83740194267673" x2="423.8" y2="99.83740194267673" stroke="#444" stroke-width="0.8"/>
<line x1="422.4" y1="98.52243454495768" x2="423.8" y2="98.52243454495768" stroke="#444" stroke-width="0.8"/>
<line x1="422.4" y1="97.36255109846331" x2="423.8" y2="97.36255109846331" stroke="#444" stroke-width="0.8"/>
<line x1="421.5" y1="96.325" x2="423.8" y2="96.325" stroke="#222" stroke-width="0.8"/>
<line x1="422.4" y1="89.49914484831922" x2="423.8" y2="89.49914484831922" stroke="#444" stroke-width="0.8"/>
<line x1="422.4" y1="85.50627554923165" x2="423.8" y2="85.50627554923165" stroke="#444" stroke-width="0.8"/>
<line x1="422.4" y1="82.67328969663845" x2="423.8" y2="82.67328969663845" stroke="#444" stroke-width="0.8"/>
<line x1="422.4" y1="80.47585515168078" x2="423.8" y2="80.47585515168078" stroke="#444" stroke-width="0.8"/>
<line x1="422.4" y1="78.68042039755088" x2="423.8" y2="78.68042039755088" stroke="#444" stroke-width="0.8"/>
<line x1="422.4" y1="77.16240194267672" x2="423.8" y2="77.16240194267672" stroke="#444" stroke-width="0.8"/>
<line x1="422.4" y1="75.84743454495768" x2="423.8" y2="75.84743454495768" stroke="#444" stroke-width="0.8"/>
<line x1="422.4" y1="74.6875510984633" x2="423.8" y2="74.6875510984633" stroke="#444" stroke-width="0.8"/>
<line x1="421.5" y1="73.65" x2="423.8" y2="73.65" stroke="#222" stroke-width="0.8"/>
<line x1="422.4" y1="66.82414484831922" x2="423.8" y2="66.82414484831922" stroke="#444" stroke-width="0.8"/>
<line x1="422.4" y1="62.83127554923165" x2="423.8" y2="62.83127554923165" stroke="#444" stroke-width="0.8"/>
<line x1="422.4" y1="59.99828969663845" x2="423.8" y2="59.99828969663845" stroke="#444" stroke-width="0.8"/>
<line x1="422.4" y1="57.80085515168077" x2="423.8" y2="57.80085515168077" stroke="#444" stroke-width="0.8"/>
<line x1="422.4" y1="56.00542039755087" x2="423.8" y2="56.00542039755087" stroke="#444" stroke-width="0.8"/>
<line x1="422.4" y1="54.487401942676726" x2="423.8" y2="54.487401942676726" stroke="#444" stroke-width="0.8"/>
<line x1="422.4" y1="53.17243454495767" x2="423.8" y2="53.17243454495767" stroke="#444" stroke-width="0.8"/>
<line x1="422.4" y1="52.012551098463305" x2="423.8" y2="52.012551098463305" stroke="#444" stroke-width="0.8"/>
<line x1="421.5" y1="50.974999999999994" x2="423.8" y2="50.974999999999994" stroke="#222" stroke-width="0.8"/>
<line x1="422.4" y1="44.149144848319224" x2="423.8" y2="44.149144848319224" stroke="#444" stroke-width="0.8"/>
<line x1="422.4" y1="40.15627554923165" x2="423.8" y2="40.15627554923165" stroke="#444" stroke-width="0.8"/>
<line x1="422.4" y1="37.323289696638454" x2="423.8" y2="37.323289696638454" stroke="#444" stroke-width="0.8"/>
<line x1="422.4" y1="35.12585515168077" x2="423.8" y2="35.12585515168077" stroke="#444" stroke-width="0.8"/>
<line x1="422.4" y1="33.33042039755087" x2="423.8" y2="33.33042039755087" stroke="#444" stroke-width="0.8"/>
<line x1="422.4" y1="31.812401942676715" x2="423.8" y2="31.812401942676715" stroke="#444" stroke-width="0.8"/>
<line x1="422.4" y1="30.49743454495767" x2="423.8" y2="30.49743454495767" stroke="#444" stroke-width="0.8"/>
<line x1="422.4" y1="29.337551098463308" x2="423.8" y2="29.337551098463308" stroke="#444" stroke-width="0.8"/>
<line x1="323.3" y1="119.0" x2="323.3" y2="121.3" stroke="#222" stroke-width="0.8"/>
<line x1="330.32152464886235" y1="119.0" x2="330.32152464886235" y2="120.6" stroke="#444" stroke-width="0.8"/>
<line x1="334.42885326633615" y1="119.0" x2="334.42885326633615" y2="120.6" stroke="#444" stroke-width="0.8"/>
<line x1="337.34304929772475" y1="119.0" x2="337.34304929772475" y2="120.6" stroke="#444" stroke-width="0.8"/>
<line x1="339.60347535113766" y1="119.0" x2="339.60347535113766" y2="120.6" stroke="#444" stroke-width="0.8"/>
<line x1="341.4503779151985" y1="119.0" x2="341.4503779151985" y2="120.6" stroke="#444" stroke-width="0.8"/>
<line x1="343.01191178333255" y1="119.0" x2="343.01191178333255" y2="120.6" stroke="#444" stroke-width="0.8"/>
<line x1="344.3645739465871" y1="119.0" x2="344.3645739465871" y2="120.6" stroke="#444" stroke-width="0.8"/>
<line x1="345.5577065326723" y1="119.0" x2="345.5577065326723" y2="120.6" stroke="#444" stroke-width="0.8"/>
<line x1="346.625" y1="119.0" x2="346.625" y2="121.3" stroke="#222" stroke-width="0.8"/>
<line x1="353.6465246488624" y1="119.0" x2="353.6465246488624" y2="120.6" stroke="#444" stroke-width="0.8"/>
<line x1="357.75385326633614" y1="119.0" x2="357.75385326633614" y2="120.6" stroke="#444" stroke-width="0.8"/>
<line x1="360.66804929772474" y1="119.0" x2="360.66804929772474" y2="120.6" stroke="#444" stroke-width="0.8"/>
<line x1="362.92847535113765" y1="119.0" x2="362.92847535113765" y2="120.6" stroke="#444" stroke-width="0.8"/>
<line x1="364.77537791519853" y1="119.0" x2="364.77537791519853" y2="120.6" stroke="#444" stroke-width="0.8"/>
<line x1="366.33691178333254" y1="119.0" x2="366.33691178333254" y2="120.6" stroke="#444" stroke-width="0.8"/>
<line x1="367.6895739465871" y1="119.0" x2="367.6895739465871" y2="120.6" stroke="#444" stroke-width="0.8"/>
<line x1="368.8827065326723" y1="119.0" x2="368.8827065326723" y2="120.6" stroke="#444" stroke-width="0.8"/>
<line x1="369.95000000000005" y1="119.0" x2="369.95000000000005" y2="121.3" stroke="#222" stroke-width="0.8"/>
<line x1="376.9715246488624" y1="119.0" x2="376.9715246488624" y2="120.6" stroke="#444" stroke-width="0.8"/>
<line x1="381.0788532663361" y1="119.0" x2="381.0788532663361" y2="120.6" stroke="#444" stroke-width="0.8"/>
<line x1="383.9930492977247" y1="119.0" x2="383.9930492977247" y2="120.6" stroke="#444" stroke-width="0.8"/>
<line x1="386.25347535113764" y1="119.0" x2="386.25347535113764" y2="120.6" stroke="#444" stroke-width="0.8"/>
<line x1="388.1003779151985" y1="119.0" x2="388.1003779151985" y2="120.6" stroke="#444" stroke-width="0.8"/>
<line x1="389.6619117833326" y1="119.0" x2="389.6619117833326" y2="120.6" stroke="#444" stroke-width="0.8"/>
<line x1="391.0145739465871" y1="119.0" x2="391.0145739465871" y2="120.6" stroke="#444" stroke-width="0.8"/>
<line x1="392.20770653267226" y1="119.0" x2="392.20770653267226" y2="120.6" stroke="#444" stroke-width="0.8"/>
<line x1="393.27500000000003" y1="119.0" x2="393.27500000000003" y2="121.3" stroke="#222" stroke-width="0.8"/>
<line x1="400.2965246488624" y1="119.0" x2="400.2965246488624" y2="120.6" stroke="#444" stroke-width="0.8"/>
<line x1="404.40385326633617" y1="119.0" x2="404.40385326633617" y2="120.6" stroke="#444" stroke-width="0.8"/>
<line x1="407.31804929772477" y1="119.0" x2="407.31804929772477" y2="120.6" stroke="#444" stroke-width="0.8"/>
<line x1="409.5784753511376" y1="119.0" x2="409.5784753511376" y2="120.6" stroke="#444" stroke-width="0.8"/>
<line x1="411.4253779151985" y1="119.0" x2="411.4253779151985" y2="120.6" stroke="#444" stroke-width="0.8"/>
<line x1="412.9869117833326" y1="119.0" x2="412.9869117833326" y2="120.6" stroke="#444" stroke-width="0.8"/>
<line x1="414.3395739465871" y1="119.0" x2="414.3395739465871" y2="120.6" stroke="#444" stroke-width="0.8"/>
<line x1="415.53270653267225" y1="119.0" x2="415.53270653267225" y2="120.6" stroke="#444" stroke-width="0.8"/>
<line x1="423.8" y1="119.0" x2="423.8" y2="121.3" stroke="#222" stroke-width="0.8"/>
<line x1="430.82152464886235" y1="119.0" x2="430.82152464886235" y2="120.6" stroke="#444" stroke-width="0.8"/>
<line x1="434.92885326633615" y1="119.0" x2="434.92885326633615" y2="120.6" stroke="#444" stroke-width="0.8"/>
<line x1="437.84304929772475" y1="119.0" x2="437.84304929772475" y2="120.6" stroke="#444" stroke-width="0.8"/>
<line x1="440.10347535113766" y1="119.0" x2="440.10347535113766" y2="120.6" stroke="#444" stroke-width="0.8"/>
<line x1="441.9503779151985" y1="119.0" x2="441.9503779151985" y2="120.6" stroke="#444" stroke-width="0.8"/>
<line x1="443.51191178333255" y1="119.0" x2="443.51191178333255" y2="120.6" stroke="#444" stroke-width="0.8"/>
<line x1="444.8645739465871" y1="119.0" x2="444.8645739465871" y2="120.6" stroke="#444" stroke-width="0.8"/>
<line x1="446.0577065326723" y1="119.0" x2="446.0577065326723" y2="120.6" stroke="#444" stroke-width="0.8"/>
<line x1="447.125" y1="119.0" x2="447.125" y2="121.3" stroke="#222" stroke-width="0.8"/>
<line x1="454.1465246488624" y1="119.0" x2="454.1465246488624" y2="120.6" stroke="#444" stroke-width="0.8"/>
<line x1="458.25385326633614" y1="119.0" x2="458.25385326633614" y2="120.6" stroke="#444" stroke-width="0.8"/>
<line x1="461.16804929772474" y1="119.0" x2="461.16804929772474" y2="120.6" stroke="#444" stroke-width="0.8"/>
<line x1="463.42847535113765" y1="119.0" x2="463.42847535113765" y2="120.6" stroke="#444" stroke-width="0.8"/>
<line x1="465.27537791519853" y1="119.0" x2="465.27537791519853" y2="120.6" stroke="#444" stroke-width="0.8"/>
<line x1="466.83691178333254" y1="119.0" x2="466.83691178333254" y2="120.6" stroke="#444" stroke-width="0.8"/>
<line x1="468.1895739465871" y1="119.0" x2="468.1895739465871" y2="120.6" stroke="#444" stroke-width="0.8"/>
<line x1="469.3827065326723" y1="119.0" x2="469.3827065326723" y2="120.6" stroke="#444" stroke-width="0.8"/>
<line x1="470.45000000000005" y1="119.0" x2="470.45000000000005" y2="121.3" stroke="#222" stroke-width="0.8"/>
<line x1="477.4715246488624" y1="119.0" x2="477.4715246488624" y2="120.6" stroke="#444" stroke-width="0.8"/>
<line x1="481.5788532663361" y1="119.0" x2="481.5788532663361" y2="120.6" stroke="#444" stroke-width="0.8"/>
<line x1="484.4930492977247" y1="119.0" x2="484.4930492977247" y2="120.6" stroke="#444" stroke-width="0.8"/>
<line x1="486.75347535113764" y1="119.0" x2="486.75347535113764" y2="120.6" stroke="#444" stroke-width="0.8"/>
<line x1="488.6003779151985" y1="119.0" x2="488.6003779151985" y2="120.6" stroke="#444" stroke-width="0.8"/>
<line x1="490.1619117833326" y1="119.0" x2="490.1619117833326" y2="120.6" stroke="#444" stroke-width="0.8"/>
<line x1="491.5145739465871" y1="119.0" x2="491.5145739465871" y2="120.6" stroke="#444" stroke-width="0.8"/>
<line x1="492.70770653267226" y1="119.0" x2="492.70770653267226" y2="120.6" stroke="#444" stroke-width="0.8"/>
<line x1="493.77500000000003" y1="119.0" x2="493.77500000000003" y2="121.3" stroke="#222" stroke-width="0.8"/>
<line x1="500.7965246488624" y1="119.0" x2="500.7965246488624" y2="120.6" stroke="#444" stroke-width="0.8"/>
<line x1="504.90385326633617" y1="119.0" x2="504.90385326633617" y2="120.6" stroke="#444" stroke-width="0.8"/>
<line x1="507.81804929772477" y1="119.0" x2="507.81804929772477" y2="120.6" stroke="#444" stroke-width="0.8"/>
<line x1="510.0784753511376" y1="119.0" x2="510.0784753511376" y2="120.6" stroke="#444" stroke-width="0.8"/>
<line x1="511.9253779151985" y1="119.0" x2="511.9253779151985" y2="120.6" stroke="#444" stroke-width="0.8"/>
<line x1="513.4869117833325" y1="119.0" x2="513.4869117833325" y2="120.6" stroke="#444" stroke-width="0.8"/>
<line x1="514.839573946587" y1="119.0" x2="514.839573946587" y2="120.6" stroke="#444" stroke-width="0.8"/>
<line x1="516.0327065326723" y1="119.0" x2="516.0327065326723" y2="120.6" stroke="#444" stroke-width="0.8"/>
<text class="sm" transform="translate(313.9,92.5) rotate(-90)" font-size="9" text-anchor="middle" textLength="22.2" lengthAdjust="spacingAndGlyphs">CD69</text>
<text x="341.9" y="133.5" font-size="9" text-anchor="start" textLength="14.8" lengthAdjust="spacingAndGlyphs" class="sm">IL-4</text>
<path d="M309.5,113 V129.5 H326" fill="none" stroke="#111" stroke-width="1"/>
<polygon points="309.5,108.6 306.5,114.8 312.5,114.8" fill="#000"/>
<polygon points="331.6,129.6 325,126.5 325,132.8" fill="#000"/>
</svg>
</body></html>
